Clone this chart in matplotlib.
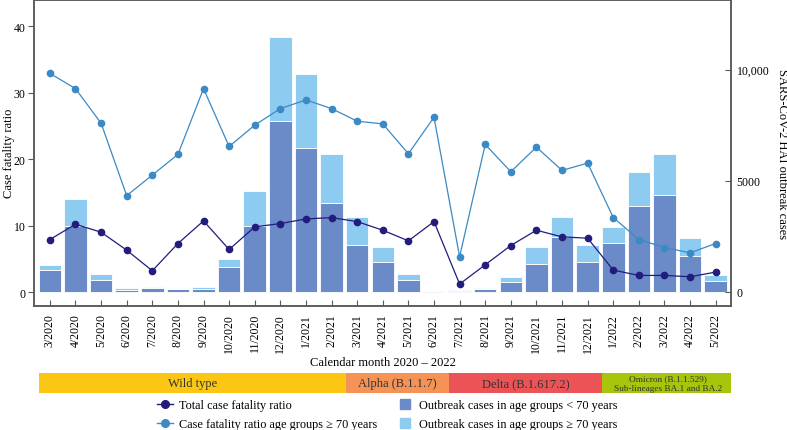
import matplotlib
matplotlib.use('Agg')
import matplotlib.pyplot as plt
from matplotlib.lines import Line2D

plt.rcParams['font.family'] = ['Liberation Serif', 'DejaVu Serif']
plt.rcParams['font.size'] = 8.5

months = ['3/2020', '4/2020', '5/2020', '6/2020', '7/2020', '8/2020', '9/2020',
          '10/2020', '11/2020', '12/2020', '1/2021', '2/2021', '3/2021', '4/2021',
          '5/2021', '6/2021', '7/2021', '8/2021', '9/2021', '10/2021', '11/2021',
          '12/2021', '1/2022', '2/2022', '3/2022', '4/2022', '5/2022']

# case fatality ratio (left axis)
cfr_total = [7.9, 10.2, 9.0, 6.3, 3.2, 7.3, 10.7, 6.4, 9.8, 10.3, 11.0, 11.2, 10.6,
             9.3, 7.7, 10.6, 1.2, 4.1, 7.0, 9.3, 8.3, 8.1, 3.3, 2.5, 2.5, 2.3, 3.0]
cfr_70plus = [32.9, 30.6, 25.4, 14.5, 17.6, 20.7, 30.6, 21.9, 25.1, 27.6, 28.9, 27.6,
              25.7, 25.3, 20.8, 26.3, 5.3, 22.2, 18.1, 21.8, 18.3, 19.4, 11.2, 7.9,
              6.7, 5.9, 7.3]

# outbreak cases (right axis)
cases_u70 = [975, 2960, 560, 105, 180, 120, 135, 1130, 2960, 7690, 6470, 3980, 2100,
             1350, 550, 40, 60, 150, 440, 1240, 2490, 1340, 2220, 3875, 4340, 1620, 510]
cases_o70 = [225, 1215, 270, 90, 60, 30, 75, 375, 1575, 3785, 3350, 2210, 1250,
             690, 245, 20, 45, 30, 220, 790, 900, 790, 720, 1520, 1880, 800, 270]

variants = ['Wild type', 'Alpha (B.1.1.7)', 'Delta (B.1.617.2)',
            'Omicron (B.1.1.529)\nSub-lineages BA.1 and BA.2']
variant_start = [0, 12, 16, 22]
variant_end = [11, 15, 21, 26]
variant_colors = ['#fbc614', '#f59357', '#ec5356', '#a8c50c']

c_dark_bar = '#6a8ac8'
c_light_bar = '#8ecbf1'
c_total = '#221c7c'
c_70 = '#3b8ac4'
spine_c = '#5a5a5a'

fig = plt.figure(figsize=(7.87, 4.31), dpi=100)
ax = fig.add_axes([0.0432, 0.2877, 0.8857, 0.711])
ax2 = ax.twinx()

x = list(range(len(months)))
ax2.bar(x, cases_u70, width=0.88, color=c_dark_bar, edgecolor='white', linewidth=0.6)
ax2.bar(x, cases_o70, bottom=cases_u70, width=0.88, color=c_light_bar,
        edgecolor='white', linewidth=0.6)

ax.plot(x, cfr_70plus, color=c_70, lw=0.9, marker='o', ms=4.5)
ax.plot(x, cfr_total, color=c_total, lw=0.9, marker='o', ms=4.5)

# lines above the bars
ax.set_zorder(ax2.get_zorder() + 1)
ax.patch.set_visible(False)

ax.set_xlim(-0.62, 26.6)
ax.set_ylim(-2.1, 44.0)
ax2.set_ylim(-630, 13150)
ax.set_yticks([0, 10, 20, 30, 40])
ax2.set_yticks([0, 5000, 10000])
ax2.set_yticklabels(['0', '5000', '10,000'])
ax.set_xticks(x)
ax.set_xticklabels(months, rotation=90)

ax.tick_params(axis='y', direction='out', length=4, color=spine_c, pad=2)
ax.tick_params(axis='x', direction='in', length=4, color=spine_c, pad=5)
ax2.tick_params(axis='y', direction='in', length=4, color=spine_c, pad=4)
for a in (ax, ax2):
    for s in a.spines.values():
        s.set_color(spine_c)
        s.set_linewidth(1.1)

ax.set_ylabel('Case fatality ratio', fontsize=9)
ax.yaxis.set_label_coords(-0.027, 0.5)
ax2.set_ylabel('SARS-CoV-2 HAI outbreak cases', fontsize=9, rotation=-90, va='bottom')
ax2.yaxis.set_label_coords(1.065, 0.5)

fig.text(0.4866, 1 - 363 / 431, 'Calendar month 2020 \u2013 2022', ha='center',
         va='center', fontsize=9)

# variant band
band = fig.add_axes([0.0432, 1 - 394 / 431, 0.8857, 20 / 431])
band.set_xlim(ax.get_xlim())
band.set_ylim(0, 1)
band.axis('off')
for name, s, e, c in zip(variants, variant_start, variant_end, variant_colors):
    left = s - 0.42
    right = e + 0.68 if e == len(months) - 1 else e + 0.58
    band.axvspan(left, right, color=c, lw=0)
    fs = 6.7 if '\n' in name else 9
    band.text((left + right) / 2, 0.5, name, ha='center', va='center',
              fontsize=fs, color='#333333', linespacing=1.2)

handles = [
    Line2D([], [], color=c_total, lw=1, marker='o', ms=5.5),
    Line2D([], [], color=c_70, lw=1, marker='o', ms=5.5),
    Line2D([], [], color=c_dark_bar, lw=0, marker='s', ms=7),
    Line2D([], [], color=c_light_bar, lw=0, marker='s', ms=7),
]
labels = ['Total case fatality ratio',
          'Case fatality ratio age groups \u2265 70 years',
          'Outbreak cases in age groups < 70 years',
          'Outbreak cases in age groups \u2265 70 years']
fig.legend(handles, labels, ncol=2, loc='upper center',
           bbox_to_anchor=(0.492, 1 - 400 / 431), frameon=False, fontsize=8.8,
           handlelength=1.3, handletextpad=0.5, columnspacing=1.6,
           labelspacing=0.6, borderaxespad=0, borderpad=0)

fig.savefig('out.png', dpi=100)
